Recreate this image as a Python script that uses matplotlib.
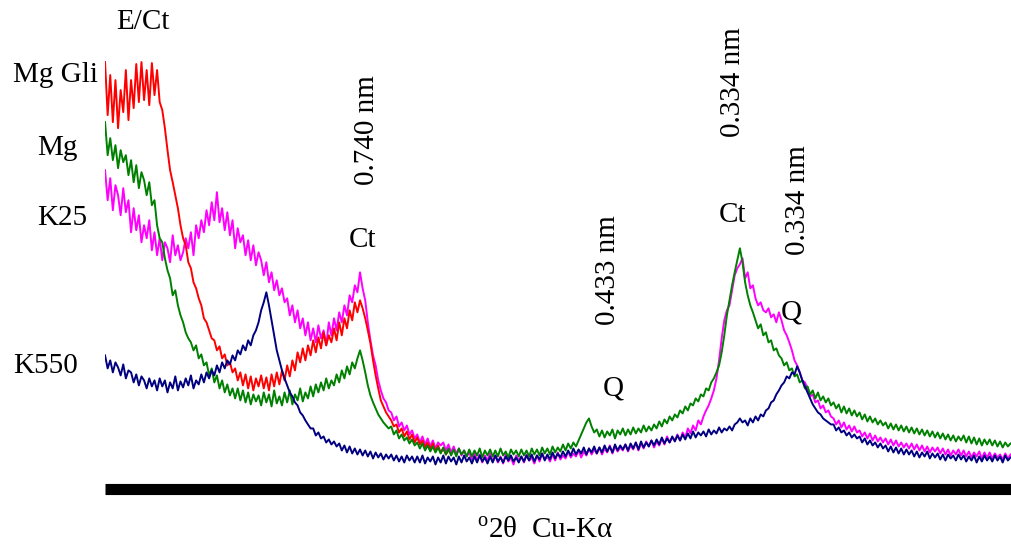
import matplotlib.pyplot as plt
import numpy as np

plt.rcParams['font.family'] = ['Liberation Serif', 'DejaVu Serif']
plt.rcParams['mathtext.fontset'] = 'custom'
plt.rcParams['mathtext.rm'] = 'Liberation Serif'

# scan: 2.3 - 37.1 deg 2theta, step 0.1 (intensity in arbitrary units)
start_2theta = 2.3
step_2theta = 0.1

# K25 (magenta)
k25 = [330, 300, 322, 290, 315, 305, 285, 312, 288, 300,
       268, 292, 270, 285, 258, 275, 262, 280, 250, 268,
       245, 262, 240, 258, 252, 238, 265, 245, 255, 240,
       248, 262, 252, 268, 245, 275, 262, 280, 268, 290,
       275, 298, 280, 308, 278, 292, 270, 288, 265, 280,
       252, 272, 258, 265, 245, 260, 240, 255, 235, 248,
       240, 225, 238, 218, 228, 210, 220, 205, 212, 198,
       202, 185, 195, 178, 190, 172, 182, 165, 178, 160,
       172, 158, 175, 162, 170, 155, 178, 165, 182, 170,
       188, 178, 195, 185, 205, 198, 215, 208, 228, 212,
       200, 178, 160, 145, 135, 120, 110, 102, 98, 90,
       88, 80, 84, 74, 78, 70, 75, 66, 70, 62,
       66, 58, 64, 56, 62, 54, 60, 52, 58, 55,
       58, 50, 56, 48, 54, 47, 52, 45, 50, 44,
       48, 41, 47, 40, 46, 38, 45, 40, 47, 39,
       45, 38, 44, 37, 46, 39, 43, 36, 45, 40,
       44, 38, 46, 40, 43, 37, 45, 39, 47, 41,
       44, 39, 46, 40, 48, 41, 45, 42, 49, 43,
       47, 44, 50, 43, 49, 45, 52, 46, 51, 47,
       53, 46, 52, 48, 55, 47, 54, 49, 53, 50,
       56, 49, 55, 51, 58, 50, 57, 52, 59, 54,
       60, 53, 59, 55, 62, 56, 64, 58, 63, 60,
       66, 60, 68, 63, 72, 67, 75, 70, 80, 76,
       84, 90, 95, 102, 110, 122, 140, 162, 180, 190,
       195, 210, 225, 232, 236, 242, 222, 228, 212, 215,
       202, 195, 198, 190, 188, 192, 183, 186, 178, 188,
       180, 170, 165, 158, 150, 140, 135, 128, 120, 118,
       112, 104, 106, 98, 100, 92, 95, 88, 90, 84,
       82, 76, 80, 73, 78, 71, 75, 69, 74, 68,
       70, 64, 68, 62, 67, 60, 65, 59, 63, 58,
       62, 56, 61, 55, 60, 54, 58, 53, 57, 52,
       57, 51, 56, 50, 55, 49, 54, 48, 53, 49,
       53, 47, 52, 46, 51, 45, 50, 46, 51, 45,
       50, 44, 49, 43, 48, 44, 49, 42, 48, 43,
       48, 42, 47, 43, 46, 41, 47, 42, 46]

# Mg Gli (red), recorded only up to ~15.5 deg
mg_gli = [438, 385, 425, 378, 420, 372, 410, 388, 430, 380,
          420, 392, 436, 398, 438, 400, 430, 395, 437, 405,
          430, 398, 390, 372, 350, 330, 318, 305, 292, 275,
          262, 255, 238, 232, 218, 212, 202, 195, 182, 178,
          170, 162, 160, 150, 154, 142, 146, 135, 138, 128,
          132, 120, 128, 115, 126, 112, 124, 110, 122, 114,
          125, 112, 123, 110, 126, 114, 128, 116, 130, 120,
          135, 124, 140, 130, 148, 138, 152, 140, 155, 145,
          160, 148, 163, 152, 168, 155, 165, 158, 172, 160,
          178, 165, 182, 172, 190, 180, 198, 188, 200, 192,
          182, 170, 157, 140, 125, 112, 100, 94, 88, 84,
          80, 74, 76, 68, 72, 64, 69, 61, 66, 58,
          63, 56, 60, 53, 58, 51, 57, 49, 55, 48,
          52, 46, 50]

# Mg (green)
mg = [378, 345, 362, 340, 355, 332, 350, 338, 345, 325,
      340, 318, 335, 312, 328, 320, 305, 318, 295, 300,
      275, 262, 258, 242, 230, 222, 205, 210, 195, 185,
      178, 168, 162, 158, 150, 155, 142, 146, 135, 138,
      125, 132, 118, 125, 112, 120, 108, 116, 105, 112,
      102, 112, 100, 110, 98, 108, 96, 106, 99, 105,
      95, 108, 98, 106, 94, 110, 97, 104, 95, 108,
      98, 110, 96, 106, 100, 112, 99, 108, 102, 114,
      104, 116, 108, 118, 110, 122, 112, 120, 115, 126,
      118, 130, 122, 134, 126, 138, 132, 142, 150, 140,
      128, 115, 105, 98, 92, 86, 82, 78, 75, 72,
      74, 66, 70, 62, 66, 60, 63, 57, 61, 55,
      58, 52, 57, 50, 55, 49, 54, 48, 53, 47,
      53, 46, 52, 45, 51, 44, 52, 46, 50, 44,
      51, 44, 50, 45, 52, 43, 50, 45, 51, 44,
      50, 44, 52, 45, 49, 43, 51, 46, 50, 44,
      51, 45, 50, 44, 52, 46, 51, 45, 53, 47,
      52, 46, 54, 48, 53, 49, 56, 50, 57, 52,
      58, 54, 60, 66, 72, 78, 82, 74, 68, 71,
      64, 70, 63, 69, 65, 71, 62, 70, 66, 72,
      65, 71, 66, 73, 67, 72, 68, 75, 69, 74,
      70, 76, 72, 79, 74, 81, 77, 84, 80, 86,
      83, 90, 87, 94, 90, 97, 95, 102, 99, 106,
      104, 112, 110, 118, 122, 128, 135, 148, 165, 185,
      200, 215, 228, 240, 252, 238, 218, 205, 195, 188,
      180, 172, 176, 165, 168, 158, 160, 150, 152, 145,
      142, 135, 138, 130, 132, 124, 126, 118, 120, 112,
      114, 106, 110, 102, 108, 100, 104, 98, 102, 95,
      98, 92, 96, 88, 94, 87, 92, 85, 90, 84,
      88, 81, 86, 79, 84, 78, 82, 76, 80, 75,
      78, 72, 77, 71, 76, 70, 75, 69, 74, 68,
      73, 67, 72, 66, 71, 65, 70, 64, 69, 63,
      68, 62, 67, 61, 66, 60, 65, 59, 64, 60,
      65, 58, 64, 57, 63, 56, 62, 55, 61, 56,
      61, 55, 60, 54, 59, 53, 58, 54, 57]

# K550 (navy)
k550 = [145, 132, 140, 128, 138, 133, 125, 136, 122, 130,
        128, 118, 126, 115, 124, 120, 112, 122, 114, 120,
        110, 122, 114, 120, 108, 118, 112, 124, 110, 119,
        113, 122, 115, 125, 112, 120, 116, 126, 118, 128,
        122, 130, 125, 135, 128, 138, 132, 140, 136, 145,
        140, 150, 146, 155, 150, 160, 155, 165, 170, 178,
        190, 198, 208, 195, 180, 165, 150, 140, 130, 122,
        115, 108, 104, 98, 95, 88, 85, 80, 76, 72,
        72, 65, 68, 62, 64, 58, 61, 56, 59, 54,
        57, 50, 55, 48, 54, 47, 52, 46, 51, 45,
        50, 44, 49, 42, 48, 43, 47, 41, 46, 42,
        46, 40, 45, 39, 44, 38, 45, 40, 44, 38,
        44, 38, 45, 37, 43, 39, 44, 36, 43, 38,
        45, 37, 44, 39, 43, 36, 44, 38, 45, 39,
        43, 37, 44, 38, 45, 39, 43, 37, 44, 38,
        45, 39, 43, 38, 44, 40, 45, 39, 43, 38,
        44, 39, 45, 40, 46, 39, 45, 41, 47, 40,
        46, 41, 48, 42, 47, 43, 49, 44, 50, 45,
        52, 46, 51, 47, 53, 46, 52, 48, 54, 47,
        53, 48, 55, 49, 54, 48, 56, 50, 55, 51,
        56, 50, 57, 52, 58, 51, 59, 53, 58, 54,
        60, 55, 61, 56, 63, 57, 62, 58, 64, 59,
        65, 60, 66, 61, 67, 62, 69, 63, 68, 65,
        69, 64, 71, 66, 70, 67, 73, 68, 72, 70,
        74, 70, 76, 78, 82, 78, 80, 75, 82, 78,
        84, 80, 86, 84, 90, 92, 98, 100, 106, 110,
        115, 118, 124, 122, 128, 126, 134, 128, 120, 114,
        108, 102, 96, 92, 88, 86, 82, 80, 78, 76,
        76, 70, 73, 68, 70, 65, 68, 63, 66, 62,
        64, 58, 62, 56, 60, 55, 58, 53, 57, 52,
        55, 49, 54, 48, 53, 47, 52, 46, 51, 46,
        50, 44, 49, 43, 48, 44, 49, 42, 47, 43,
        47, 41, 46, 40, 46, 42, 45, 40, 46, 41,
        45, 39, 44, 40, 45, 38, 44, 39, 45, 40,
        44, 39, 45, 40, 44, 38, 45, 40, 43]

series = [(k25, '#ff00ff'), (mg_gli, '#ff0000'), (mg, '#008000'), (k550, '#000080')]

fig = plt.figure(figsize=(10.11, 5.51), dpi=100)
ax = fig.add_axes([0.1039, 0.1134, 0.8961, 0.8866])

for vals, col in series:
    tt = start_2theta + step_2theta * np.arange(len(vals))
    ax.plot(tt, vals, color=col, lw=1.4)

ax.set_xlim(2.3, 37.12)
ax.set_ylim(12, 500)
for s in ['top', 'left', 'right']:
    ax.spines[s].set_visible(False)
ax.spines['bottom'].set_linewidth(8)
ax.spines['bottom'].set_capstyle('butt')
ax.set_xticks([])
ax.set_yticks([])

fs = 21
# peak annotations
ax.text(3.76, 478, 'E/Ct', fontsize=fs, ha='center', va='center')
ax.text(12.21, 260, 'Ct', fontsize=fs, ha='center', va='center')
ax.text(12.37, 370, '0.740 nm', fontsize=fs, rotation=90, ha='center', va='center')
ax.text(21.63, 230, '0.433 nm', fontsize=fs, rotation=90, ha='center', va='center')
ax.text(21.82, 112, 'Q', fontsize=fs, ha='center', va='center')
ax.text(26.43, 418, '0.334 nm', fontsize=fs, rotation=90, ha='center', va='center')
ax.text(26.40, 285, 'Ct', fontsize=fs, ha='center', va='center')
ax.text(28.93, 300, '0.334 nm', fontsize=fs, rotation=90, ha='center', va='center')
ax.text(28.66, 188, 'Q', fontsize=fs, ha='center', va='center')

# sample names
fig.text(13 / 1011, 1 - 75 / 551, 'Mg Gli', fontsize=fs, va='center')
fig.text(37 / 1011, 1 - 148 / 551, 'Mg', fontsize=fs, va='center')
fig.text(37 / 1011, 1 - 218 / 551, 'K25', fontsize=fs, va='center')
fig.text(13 / 1011, 1 - 366 / 551, 'K550', fontsize=fs, va='center')

fig.text(545 / 1011, 1 - 531 / 551, r'$^{\mathrm{o}}$2θ  Cu-Kα', fontsize=fs, ha='center', va='center')

fig.savefig('out.png', dpi=100)
